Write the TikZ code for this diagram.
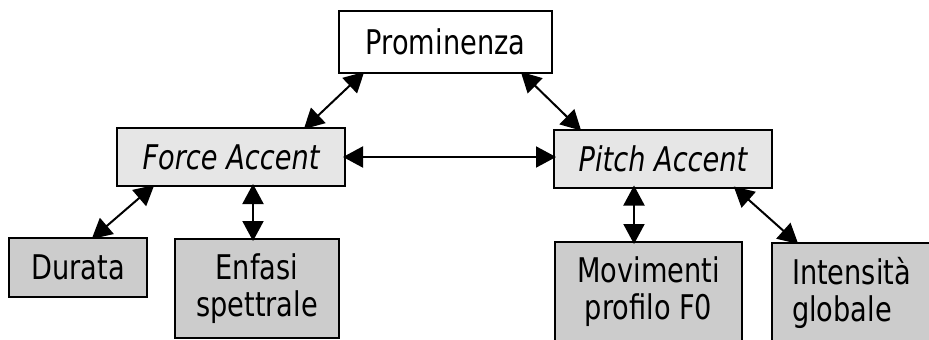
\documentclass[tikz,border=0pt]{standalone}
\usepackage{fontspec}
\setmainfont[FakeStretch=0.8]{DejaVu Sans}
\usetikzlibrary{arrows.meta,positioning}
\definecolor{boxlight}{HTML}{E6E6E6}
\definecolor{boxdark}{HTML}{CCCCCC}

\begin{document}
\begin{tikzpicture}[x=1pt,y=-1pt,
  box/.style={draw=black,line width=2pt,inner sep=0pt,
              font=\fontsize{34}{37}\selectfont},
  accent/.style={box,fill=boxlight,font=\fontsize{34}{37}\selectfont\itshape},
  cue/.style={box,fill=boxdark,align=center},
  link/.style={line width=2pt,shorten <=-3pt,shorten >=-3pt,
               {Triangle[length=20pt,width=21pt]}-{Triangle[length=20pt,width=21pt]}}]
  \useasboundingbox (0,0) rectangle (929,340);
  \clip (0,0) rectangle (929,340);
  % Top node
  \node[box,fill=white,minimum width=213pt,minimum height=62pt]
    (prom) at (445.5,42) {Prominenza};
  % Accent types
  \node[accent,minimum width=228pt,minimum height=58pt]
    (force) at (231,157) {Force Accent};
  \node[accent,minimum width=218pt,minimum height=58pt]
    (pitch) at (663,158.5) {Pitch Accent};
  % Acoustic cues
  \node[cue,minimum width=138pt,minimum height=59pt]
    (durata) at (78,267.5) {Durata};
  \node[cue,minimum width=164pt,minimum height=99pt]
    (enfasi) at (257,288.5) {Enfasi\\spettrale};
  \node[cue,minimum width=187pt,minimum height=100pt]
    (movim) at (648.5,292) {Movimenti\\profilo F0};
  \node[cue,align=left,minimum width=159pt,minimum height=99pt]
    (intens) at (851.5,292.5) {Intensità\\globale};
  % Links
  \draw[link] ([xshift=24pt]prom.south west) -- ([xshift=190pt]force.north west);
  \draw[link] ([xshift=-30pt]prom.south east) -- ([xshift=26pt]pitch.north west);
  \draw[link] (force.east) -- (force.east -| pitch.west);
  \draw[link] ([xshift=36pt]force.south west) -- ([xshift=86pt]durata.north west);
  \draw[link] ([xshift=137pt]force.south west) -- ([xshift=137pt]force.south west |- enfasi.north);
  \draw[link] ([xshift=81pt]pitch.south west) -- ([xshift=81pt]pitch.south west |- movim.north);
  \draw[link] ([xshift=183pt]pitch.south west) -- ([xshift=25pt]intens.north west);
\end{tikzpicture}
\end{document}
